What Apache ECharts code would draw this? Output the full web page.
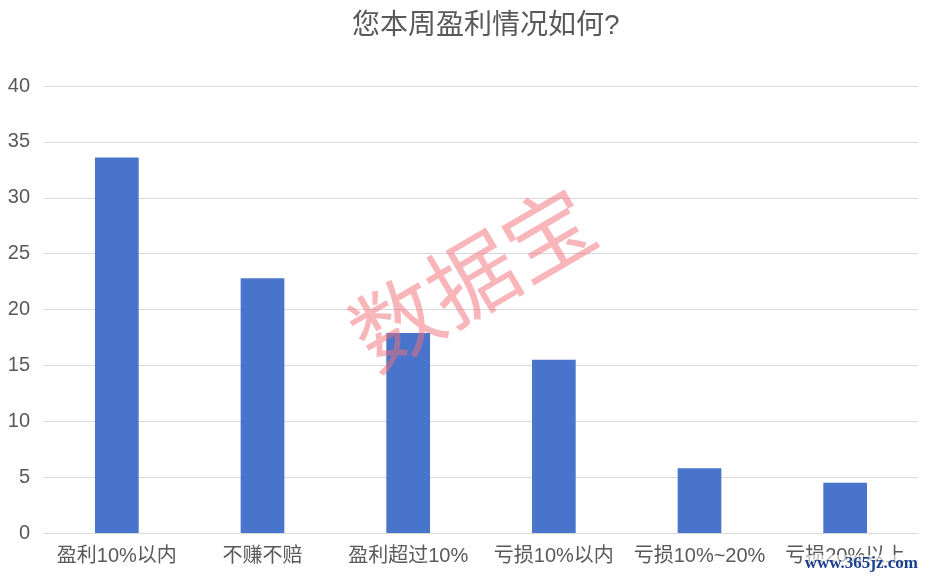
<!DOCTYPE html>
<html>
<head>
<meta charset="utf-8">
<script src="https://cdn.jsdelivr.net/npm/echarts@6/dist/echarts.min.js"></script>
<style>html,body{margin:0;padding:0;background:#fff}#c{width:928px;height:580px}</style>
</head>
<body>
<div id="c"></div>
<script>
const titleText = '您本周盈利情况如何?';
const categories = ['盈利10%以内', '不赚不赔', '盈利超过10%', '亏损10%以内', '亏损10%~20%', '亏损20%以上'];
const values = [33.6, 22.8, 17.9, 15.5, 5.8, 4.5];
const yTicks = [0, 5, 10, 15, 20, 25, 30, 35, 40];

const font = '"Liberation Sans", "Noto Sans CJK SC", sans-serif';
const chart = echarts.init(document.getElementById('c'));
chart.setOption({
  animation: false,
  backgroundColor: '#fff',
  title: {
    text: titleText, left: 347, top: 7,
    textStyle: { color: '#595959', fontSize: 28, fontWeight: 'normal', fontFamily: font }
  },
  grid: { left: 44, right: 10, top: 86, bottom: 47 },
  xAxis: {
    type: 'category', data: categories,
    axisLine: { lineStyle: { color: '#d9d9d9' } },
    axisTick: { show: false },
    axisLabel: { color: '#595959', fontSize: 20, margin: 13, fontFamily: font, interval: 0 }
  },
  yAxis: {
    type: 'value', min: yTicks[0], max: yTicks[yTicks.length - 1], interval: 5,
    axisLine: { show: false }, axisTick: { show: false },
    splitLine: { lineStyle: { color: '#d9d9d9' } },
    axisLabel: { color: '#595959', fontSize: 20, margin: 14, fontFamily: font }
  },
  series: [{
    type: 'bar', data: values, barWidth: '30%',
    itemStyle: { color: '#4874CB' }
  }],
  graphic: [
    {
      type: 'text', x: 472, y: 278, rotation: 0.53, z: 100,
      style: {
        text: '数据宝', fill: 'rgba(243,110,118,0.5)', fontSize: 88,
        fontFamily: '"Noto Sans CJK SC", sans-serif', align: 'center', verticalAlign: 'middle'
      }
    },
    {
      type: 'text', right: 10, top: 555, z: 100,
      style: {
        text: 'www.365jz.com', fill: '#1c3f8f', fontSize: 17, fontWeight: 'bold',
        fontFamily: '"Liberation Serif", "DejaVu Serif", serif',
        backgroundColor: 'rgba(255,255,255,0.6)'
      }
    }
  ]
});
</script>
</body>
</html>
